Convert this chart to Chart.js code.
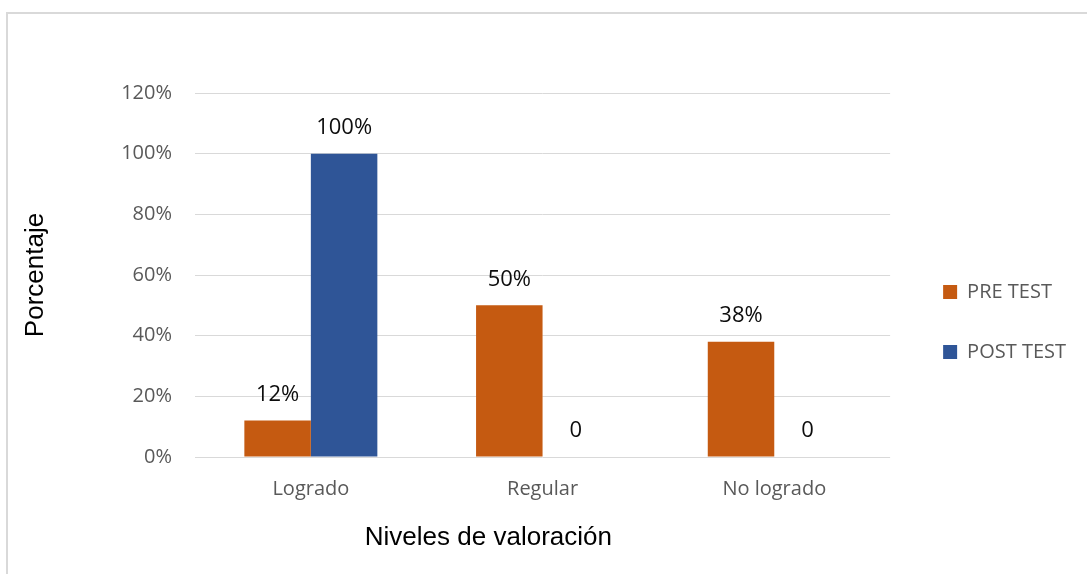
<!DOCTYPE html>
<html>
<head>
<meta charset="utf-8">
<script src="https://cdn.jsdelivr.net/npm/chart.js@4/dist/chart.umd.min.js"></script>
<style>
    body { margin: 0; background: #fff; overflow: hidden; }
    #wrap { position: relative; width: 1087px; height: 574px; overflow: hidden; }
    #frame { position: absolute; left: 6px; top: 12px; width: 1200px; height: 700px;
             border: 2px solid #d9d9d9; pointer-events: none; }
</style>
</head>
<body>
<div id="wrap">
    <canvas id="myChart" width="1087" height="574"></canvas>
    <div id="frame"></div>
</div>
<script>
const categories = ['Logrado', 'Regular', 'No logrado'];
const seriesNames = ['PRE TEST', 'POST TEST'];
const preTest = [0.12, 0.50, 0.38];
const postTest = [1.00, 0, 0];
const yMax = 1.2;
const yStep = 0.2;

const orange = '#c55a11';
const blue = '#2f5597';
const gray = '#595959';

function pct(v) {
    if (v === 0) return '0';
    return Math.round(v * 100) + '%';
}

// etiquetas encima de cada barra
const barLabels = {
    id: 'barLabels',
    afterDatasetsDraw(chart) {
        const ctx = chart.ctx;
        ctx.save();
        ctx.font = '22px "Open Sans"';
        ctx.fillStyle = '#0d0d0d';
        ctx.textAlign = 'center';
        ctx.textBaseline = 'middle';
        chart.data.datasets.forEach((ds, i) => {
            chart.getDatasetMeta(i).data.forEach((bar, j) => {
                ctx.fillText(pct(ds.data[j]), bar.x, bar.y - 26);
            });
        });
        ctx.restore();
    }
};

const ctx = document.getElementById('myChart');
new Chart(ctx, {
    type: 'bar',
    data: {
        labels: categories,
        datasets: [{
            label: seriesNames[0],
            data: preTest,
            backgroundColor: orange,
            categoryPercentage: 0.574,
            barPercentage: 1.0
        }, {
            label: seriesNames[1],
            data: postTest,
            backgroundColor: blue,
            categoryPercentage: 0.574,
            barPercentage: 1.0
        }]
    },
    options: {
        responsive: false,
        animation: false,
        devicePixelRatio: 1,
        layout: { padding: { top: 93, bottom: 23, left: 0, right: 11 } },
        plugins: {
            tooltip: { enabled: false },
            legend: {
                position: 'right',
                align: 'center',
                labels: {
                    boxWidth: 14,
                    boxHeight: 14,
                    padding: 40,
                    color: gray,
                    font: { family: 'Open Sans', size: 20 }
                }
            }
        },
        scales: {
            x: {
                grid: { display: false, drawTicks: false },
                border: { display: false },
                ticks: { color: gray, padding: 20, font: { family: 'Open Sans', size: 20 } },
                title: {
                    display: true,
                    text: 'Niveles de valoraci\u00f3n' + '\u00a0'.repeat(15),
                    color: '#000',
                    padding: { top: 0, bottom: 0 },
                    font: { family: 'Liberation Sans', size: 26, lineHeight: 1 }
                },
                afterFit(s) { s.height = 94; }
            },
            y: {
                min: 0,
                max: yMax,
                grid: { color: '#d9d9d9', lineWidth: 1, drawTicks: false },
                border: { display: false },
                ticks: {
                    stepSize: yStep,
                    padding: 23,
                    color: gray,
                    font: { family: 'Open Sans', size: 20 },
                    callback: v => Math.round(v * 100) + '%'
                },
                title: {
                    display: true,
                    text: 'Porcentaje',
                    color: '#000',
                    padding: { top: 23, bottom: 0 },
                    font: { family: 'Liberation Sans', size: 26, lineHeight: 1 }
                },
                afterFit(s) { s.width = 195; }
            },
            yGap: {
                type: 'linear',
                position: 'right',
                grid: { display: false, drawTicks: false },
                border: { display: false },
                ticks: { display: false },
                afterFit(s) { s.width = 13; }
            }
        }
    },
    plugins: [barLabels]
});
</script>
</body>
</html>
